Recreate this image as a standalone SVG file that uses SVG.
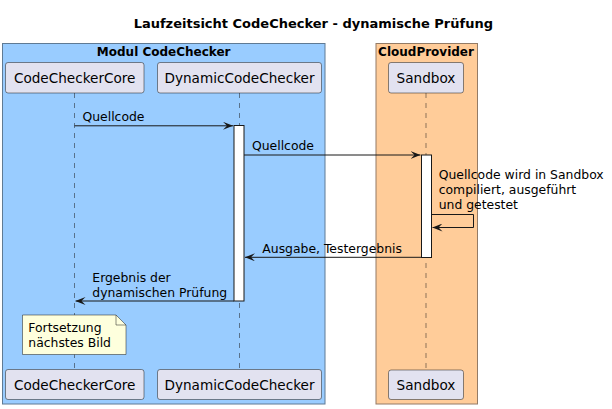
<svg xmlns="http://www.w3.org/2000/svg" width="612" height="409" viewBox="0 0 612 409">
<defs>
<style>
.t{font-family:"DejaVu Sans",sans-serif;fill:#000}
.title{font-size:13px;font-weight:bold}
.grp{font-size:12px;font-weight:bold}
.part{font-size:13.6px}
.msg{font-size:12.4px}
.pbox{fill:#E2E2F0;stroke:#181818;stroke-width:0.5}
.life{stroke:#181818;stroke-width:0.5;stroke-dasharray:5,5}
.act{fill:#FFFFFF;stroke:#181818;stroke-width:1}
.line{stroke:#181818;stroke-width:1;fill:none}
</style>
<marker id="ah" viewBox="0 0 10 8" refX="10" refY="4" markerWidth="10" markerHeight="8" markerUnits="userSpaceOnUse" orient="auto">
<polygon points="0,0 10,4 0,8 4,4" fill="#181818"/>
</marker>
</defs>
<rect width="612" height="409" fill="#FFFFFF"/>
<text class="t title" x="313.3" y="28" text-anchor="middle">Laufzeitsicht CodeChecker - dynamische Prüfung</text>

<g id="box-modul">
<rect x="2.5" y="43.5" width="322.5" height="360.5" fill="#99CCFF" stroke="#5F7A94" stroke-width="1"/>
<text class="t grp" x="163.7" y="56" text-anchor="middle">Modul CodeChecker</text>
</g>
<g id="box-cloud">
<rect x="376" y="43.5" width="101.5" height="360.5" fill="#FFCC99" stroke="#937B66" stroke-width="1"/>
<text class="t grp" x="426" y="56" text-anchor="middle">CloudProvider</text>
</g>

<g id="lifelines">
<line class="life" x1="74.5" y1="93" x2="74.5" y2="369"/>
<line class="life" x1="239.5" y1="93" x2="239.5" y2="369"/>
<line class="life" x1="426" y1="93" x2="426" y2="370"/>
</g>

<g id="CodeCheckerCore">
<rect class="pbox" x="5.5" y="62.5" width="138.5" height="30.5" rx="2.5"/>
<text class="t part" x="74.7" y="83.3" text-anchor="middle">CodeCheckerCore</text>
<rect class="pbox" x="5.5" y="369.5" width="138.5" height="30" rx="2.5"/>
<text class="t part" x="74.7" y="389.5" text-anchor="middle">CodeCheckerCore</text>
</g>
<g id="DynamicCodeChecker">
<rect class="pbox" x="157.5" y="62.5" width="164" height="30.5" rx="2.5"/>
<text class="t part" x="239.5" y="83.3" text-anchor="middle">DynamicCodeChecker</text>
<rect class="pbox" x="157.5" y="369.5" width="164" height="30" rx="2.5"/>
<text class="t part" x="239.5" y="389.5" text-anchor="middle">DynamicCodeChecker</text>
<rect class="act" x="234" y="125.5" width="10" height="175.5"/>
</g>
<g id="Sandbox">
<rect class="pbox" x="388.5" y="62.5" width="75" height="30.5" rx="2.5"/>
<text class="t part" x="426" y="83.3" text-anchor="middle">Sandbox</text>
<rect class="pbox" x="388.5" y="370" width="75" height="29.5" rx="2.5"/>
<text class="t part" x="426" y="389.8" text-anchor="middle">Sandbox</text>
<rect class="act" x="421.5" y="155" width="10" height="102.5"/>
</g>

<g id="note">
<path d="M22.5,315 L116,315 L126,325 L126,354.5 L22.5,354.5 Z" fill="#FEFFDD" stroke="#181818" stroke-width="0.5"/>
<path d="M116,315 L116,325 L126,325" fill="none" stroke="#181818" stroke-width="0.5"/>
<text class="t msg" x="28.3" y="332.3">Fortsetzung</text>
<text class="t msg" x="28.3" y="347.3">nächstes Bild</text>
</g>

<g id="connectors">
<line class="line" x1="74.5" y1="125.8" x2="233" y2="125.8" marker-end="url(#ah)"/>
<text class="t msg" x="82.5" y="121">Quellcode</text>
<line class="line" x1="244" y1="155" x2="420.5" y2="155" marker-end="url(#ah)"/>
<text class="t msg" x="252" y="150.3">Quellcode</text>
<polyline class="line" points="431.5,214.5 473.5,214.5 473.5,227.5 432.5,227.5" marker-end="url(#ah)"/>
<text class="t msg" x="438.7" y="178.5">Quellcode wird in Sandbox</text>
<text class="t msg" x="438.7" y="194">compiliert, ausgeführt</text>
<text class="t msg" x="438.7" y="209.3">und getestet</text>
<line class="line" x1="421.5" y1="257.3" x2="245" y2="257.3" marker-end="url(#ah)"/>
<text class="t msg" x="262.3" y="252.5">Ausgabe, Testergebnis</text>
<line class="line" x1="234" y1="301" x2="75.5" y2="301" marker-end="url(#ah)"/>
<text class="t msg" x="92.3" y="281.5">Ergebnis der</text>
<text class="t msg" x="92.3" y="296.5">dynamischen Prüfung</text>
</g>
</svg>
